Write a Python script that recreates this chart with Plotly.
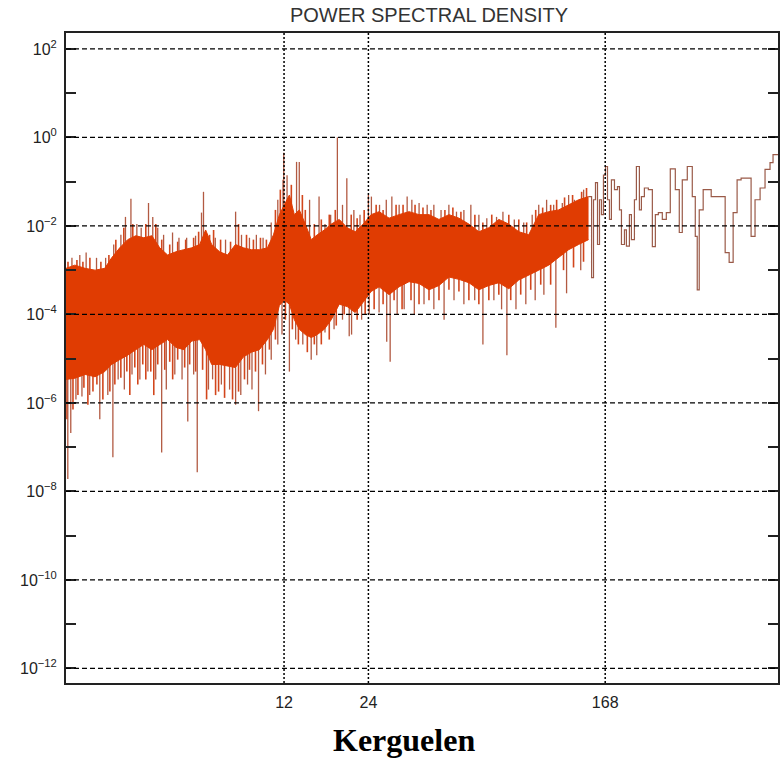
import numpy as np
import plotly.graph_objects as go

# ---- data (period in hours, PSD values) ----
ENV_PERIOD = [2.0, 2.15, 2.34, 2.54, 2.75, 2.91, 3.11, 3.32, 3.55, 3.79,
              4.05, 4.32, 4.61, 4.93, 5.26, 5.62, 6.00, 6.30, 6.62, 7.07,
              7.54, 8.05, 8.60, 9.18, 9.80, 10.47, 11.0, 11.55, 12.03, 12.54,
              13.06, 13.61, 14.29, 15.01, 15.77, 16.7, 17.69, 18.89, 20.17, 21.53,
              23.0, 24.54, 26.21, 28.45, 30.88, 33.52, 36.38, 39.49, 42.86, 46.52,
              50.5, 54.81, 59.49, 64.57, 70.09, 76.08, 82.58, 89.6, 97.3, 105.6,
              114.6, 124.4, 135.0, 146.5]
UPPER_ENV = [1.1e-3, 1.3e-3, 1.1e-3, 1.0e-3, 1.1e-3, 1.9e-3, 3.2e-3, 4.9e-3, 6.0e-3, 5.4e-3,
             6.0e-3, 3.2e-3, 2.2e-3, 2.6e-3, 2.9e-3, 3.2e-3, 3.8e-3, 8.1e-3, 3.8e-3, 2.6e-3,
             2.2e-3, 3.8e-3, 3.2e-3, 2.9e-3, 2.9e-3, 3.2e-3, 6.3e-3, 1.8e-2, 3.0e-2, 5.0e-2,
             1.8e-2, 2.3e-2, 1.1e-2, 4.9e-3, 6.3e-3, 8.1e-3, 1.1e-2, 1.4e-2, 9.1e-3, 7.4e-3,
             1.1e-2, 1.8e-2, 2.1e-2, 1.5e-2, 1.8e-2, 2.1e-2, 1.8e-2, 1.8e-2, 1.4e-2, 1.8e-2,
             1.5e-2, 1.1e-2, 7.4e-3, 9.1e-3, 1.4e-2, 1.1e-2, 7.4e-3, 6.3e-3, 1.8e-2, 2.1e-2,
             2.3e-2, 3.0e-2, 3.9e-2, 4.6e-2]
LOWER_ENV = [3.4e-6, 3.6e-6, 4.4e-6, 3.9e-6, 5.1e-6, 7.4e-6, 9.5e-6, 1.2e-5, 1.6e-5, 2.1e-5,
             1.6e-5, 2.1e-5, 2.7e-5, 1.8e-5, 1.6e-5, 2.5e-5, 2.7e-5, 1.6e-5, 7.4e-6, 7.4e-6,
             6.8e-6, 6.3e-6, 1.1e-5, 1.4e-5, 1.6e-5, 2.7e-5, 4.6e-5, 1.6e-4, 2.1e-4, 1.7e-4,
             7.6e-5, 4.6e-5, 3.5e-5, 3.0e-5, 3.5e-5, 4.6e-5, 7.6e-5, 1.7e-4, 1.5e-4, 1.1e-4,
             1.9e-4, 3.3e-4, 4.2e-4, 2.8e-4, 4.2e-4, 5.5e-4, 5.0e-4, 3.6e-4, 4.5e-4, 7.0e-4,
             6.2e-4, 5.2e-4, 3.6e-4, 4.5e-4, 5.2e-4, 3.8e-4, 6.0e-4, 7.6e-4, 1.0e-3, 1.3e-3,
             1.9e-3, 2.9e-3, 3.8e-3, 4.9e-3]

UP_SPIKE_PERIOD = [2.10, 2.24, 2.36, 2.57, 2.77, 2.96, 3.14, 3.26, 3.41, 3.58,
                   3.71, 3.94, 4.08, 4.25, 4.46, 4.80, 5.06, 5.39, 5.80, 6.09,
                   6.19, 6.82, 7.42, 8.06, 8.46, 9.03, 9.56, 10.1, 10.8, 11.4,
                   11.9, 11.97, 12.3, 13.3, 13.6, 14.8, 16.0, 16.8, 17.6, 18.6,
                   19.4, 20.1, 21.3, 22.4, 24.0, 24.6, 26.3, 27.8, 29.1, 30.9,
                   33.0, 34.3, 36.4, 38.9, 41.1, 43.6, 46.5, 49.5, 52.6, 55.7,
                   59.5, 63.5, 68.8, 72.5, 79.6, 86.0, 92.2, 97.3, 103.8, 110.0,
                   118.1, 124.4, 130.5, 140.7]
UP_SPIKE_VALUE = [1.9e-3, 2.2e-3, 2.5e-3, 1.9e-3, 1.9e-3, 3.8e-3, 6.3e-3, 1.6e-2, 4.1e-2, 1.1e-2,
                  9.1e-3, 3.3e-2, 1.6e-2, 9.1e-3, 6.3e-3, 7.1e-3, 5.4e-3, 5.4e-3, 6.0e-3, 2.0e-2,
                  5.9e-2, 5.4e-3, 4.9e-3, 2.1e-2, 6.3e-3, 5.4e-3, 6.3e-3, 5.4e-3, 1.2e-2, 3.9e-2,
                  1.1e-1, 4.5e-1, 1.4e-1, 2.8e-1, 2.8e-1, 3.9e-2, 4.6e-2, 1.1e-2, 1.8e-2, 1.0,
                  3.0e-2, 1.2e-1, 2.3e-2, 1.8e-2, 5.0e-2, 4.6e-2, 3.0e-2, 3.9e-2, 4.6e-2, 3.0e-2,
                  4.6e-2, 3.9e-2, 3.3e-2, 3.0e-2, 3.0e-2, 2.3e-2, 3.0e-2, 2.1e-2, 2.3e-2, 3.0e-2,
                  1.8e-2, 1.5e-2, 1.6e-2, 2.1e-2, 1.4e-2, 1.2e-2, 1.8e-2, 3.0e-2, 3.9e-2, 3.0e-2,
                  3.3e-2, 5.0e-2, 3.9e-2, 6.6e-2]
# smaller ragged peaks along the top of the dense band
UP_SMALL_PERIOD = [2.033, 2.188, 2.298, 2.434, 2.664, 2.845, 3.012, 3.216, 3.462, 3.853,
                   4.183, 4.392, 4.690, 5.007, 5.347, 5.708, 5.948, 6.509, 6.726, 7.124,
                   7.731, 8.256, 8.815, 9.33, 9.886, 10.38, 11.18, 11.64, 12.74, 13.95,
                   14.29, 15.39, 16.30, 17.40, 18.28, 20.84, 21.88, 23.18, 25.58, 27.08,
                   30.13, 31.91, 35.21, 37.58, 40.13, 45.01, 48.05, 51.33, 57.57, 61.46,
                   66.14, 76.08, 82.58, 88.1, 94.9, 100.5, 107.3, 112.7, 120.3, 128.5,
                   138.4, 144.1]
UP_SMALL_VALUE = [1.55e-3, 1.7e-3, 1.55e-3, 1.9e-3, 1.55e-3, 2.2e-3, 4.9e-3, 9.1e-3, 1.1e-2, 1.1e-2,
                  1.1e-2, 4.9e-3, 3.8e-3, 4.4e-3, 4.9e-3, 5.4e-3, 7.4e-3, 6.3e-3, 8.1e-3, 4.9e-3,
                  4.4e-3, 1.1e-2, 6.3e-3, 4.9e-3, 5.4e-3, 4.9e-3, 2.3e-2, 6.6e-2, 8.5e-2, 5.0e-2,
                  2.3e-2, 1.1e-2, 1.4e-2, 1.8e-2, 2.3e-2, 1.8e-2, 1.5e-2, 2.3e-2, 3.0e-2, 2.3e-2,
                  3.0e-2, 3.0e-2, 3.0e-2, 2.6e-2, 2.3e-2, 2.3e-2, 2.6e-2, 2.1e-2, 1.8e-2, 1.2e-2,
                  1.8e-2, 1.8e-2, 1.4e-2, 1.2e-2, 2.3e-2, 2.6e-2, 3.0e-2, 3.9e-2, 4.4e-2, 5.0e-2,
                  5.9e-2, 7.2e-2]

DOWN_SPIKE_PERIOD = [2.03, 2.08, 2.17, 2.28, 2.43, 2.64, 2.82, 2.94, 3.07, 3.23,
                     3.44, 3.67, 3.92, 4.18, 4.39, 4.56, 4.89, 5.19, 5.44, 5.71,
                     5.88, 6.45, 6.67, 7.17, 7.67, 8.06, 8.41, 8.89, 9.22, 9.73,
                     10.3, 10.8, 11.4, 11.8, 12.54, 13.2, 14.0, 15.0, 15.7, 16.8,
                     18.1, 19.4, 20.5, 20.9, 22.7, 24.15, 26.2, 27.9, 28.7, 30.4,
                     32.2, 35.0, 37.9, 41.1, 44.7, 48.5, 52.6, 57.5, 61.5, 67.3,
                     71.7, 74.9, 80.7, 87.5, 94.5, 101.5, 112.0, 122.3, 137.4]
DOWN_SPIKE_VALUE = [1.9e-8, 2.1e-7, 1.2e-6, 1.4e-6, 1.5e-6, 4.3e-7, 1.5e-6, 5.9e-8, 3.4e-6, 2.0e-6,
                    4.4e-6, 3.4e-6, 5.1e-6, 3.4e-6, 7.6e-8, 2.0e-6, 4.4e-6, 3.4e-6, 3.8e-7, 4.4e-6,
                    2.7e-8, 2.0e-6, 3.4e-6, 2.6e-6, 2.0e-6, 9.1e-7, 1.5e-6, 2.6e-6, 2.0e-6, 6.5e-7,
                    4.4e-6, 9.5e-6, 2.1e-5, 3.5e-5, 5.1e-6, 2.7e-5, 2.1e-5, 9.5e-6, 1.2e-5, 3.9e-5,
                    4.6e-5, 7.6e-5, 3.2e-5, 3.5e-5, 7.6e-5, 1.0e-4, 1.1e-4, 2.4e-5, 8.5e-6, 1.0e-4,
                    1.3e-4, 1.0e-4, 1.7e-4, 1.3e-4, 7.6e-5, 2.1e-4, 1.7e-4, 2.1e-4, 2.1e-5, 2.1e-4,
                    1.3e-4, 1.2e-5, 1.3e-4, 1.7e-4, 2.1e-4, 2.8e-4, 5.0e-5, 3.0e-4, 1.0e-3]
# shorter ragged troughs along the bottom of the dense band
DOWN_SMALL_PERIOD = [2.016, 2.118, 2.206, 2.317, 2.394, 2.496, 2.578, 2.708, 2.868, 2.988,
                     3.139, 3.297, 3.379, 3.520, 3.608, 3.758, 3.853, 4.014, 4.114, 4.251,
                     4.502, 4.690, 4.805, 5.007, 5.303, 5.525, 5.803, 6.145, 6.350, 6.837,
                     7.007, 7.361, 7.859, 8.256, 8.671, 9.033, 9.489, 10.05, 10.64, 11.18,
                     12.13, 12.85, 13.50, 14.53, 15.39, 16.30, 17.40, 18.43, 19.67, 21.88,
                     23.37, 25.16, 27.08, 29.64, 31.65, 34.06, 36.38, 39.49, 42.86, 46.52,
                     50.5, 54.81, 59.49, 64.57, 70.09, 77.3, 83.9, 91.1, 98.9, 107.3,
                     119.3, 129.5, 140.6]
DOWN_SMALL_VALUE = [4.3e-7, 7.1e-7, 1.5e-6, 2.2e-6, 9.1e-7, 1.8e-6, 2.6e-6, 1.2e-6, 1.8e-6, 2.6e-6,
                    3.7e-6, 5.1e-6, 1.5e-6, 6.3e-6, 2.6e-6, 7.4e-6, 3.4e-6, 5.1e-6, 1.5e-6, 7.4e-6,
                    5.6e-6, 8.5e-6, 3.4e-6, 9.5e-6, 6.3e-6, 7.4e-6, 5.1e-6, 5.6e-6, 1.2e-6, 1.5e-6,
                    1.8e-6, 1.3e-6, 1.2e-6, 1.8e-6, 3.4e-6, 5.6e-6, 5.1e-6, 7.4e-6, 1.6e-5, 2.7e-5,
                    7.6e-5, 4.6e-5, 2.1e-5, 1.4e-5, 2.1e-5, 2.1e-5, 2.7e-5, 5.6e-5, 1.0e-4, 7.6e-5,
                    1.0e-4, 1.3e-4, 1.7e-4, 2.1e-4, 1.3e-4, 2.1e-4, 1.7e-4, 2.1e-4, 2.1e-4, 3.6e-4,
                    3.3e-4, 2.1e-4, 1.7e-4, 2.1e-4, 2.8e-4, 2.1e-4, 2.8e-4, 3.6e-4, 4.7e-4, 4.7e-4,
                    1.0e-3, 1.15e-3, 1.55e-3]

STEP_PERIOD = [146.5, 150.2, 152.6, 155.1, 157.7, 160.3, 162.9, 165.6, 168.4, 171.2,
               174.0, 176.8, 181.3, 185.8, 188.9, 192.0, 196.8, 200.0, 205.0, 208.4,
               213.6, 217.1, 222.5, 226.2, 231.8, 239.5, 247.5, 253.7, 260.0, 268.6,
               277.6, 286.8, 298.9, 308.8, 316.5, 329.8, 343.6, 352.2, 357.9, 363.8,
               375.8, 401.4, 450.2, 465.2, 480.7, 496.6, 513.2, 557.1, 575.5, 599.9,
               624.8, 651.0, 667.2, 700.0]
STEP_VALUE = [4.6e-2, 6.8e-4, 3.9e-2, 9.5e-2, 3.8e-3, 3.9e-2, 1.8e-2, 1.4e-1, 2.2e-1, 3.9e-2,
              1.4e-2, 1.1e-1, 6.6e-2, 7.7e-2, 2.3e-2, 3.8e-3, 8.1e-3, 3.5e-3, 1.8e-2, 4.9e-3,
              3.9e-2, 2.2e-1, 2.3e-2, 4.6e-2, 7.2e-2, 6.6e-2, 3.4e-3, 1.8e-2, 2.0e-2, 1.4e-2,
              2.0e-2, 1.95e-1, 6.6e-2, 7.1e-3, 1.1e-1, 2.2e-1, 4.6e-2, 5.8e-3, 3.6e-4, 2.3e-2,
              6.6e-2, 4.6e-2, 2.5e-3, 1.5e-3, 2.0e-2, 1.1e-1, 1.2e-1, 5.8e-3, 3.9e-2, 7.2e-2,
              1.9e-1, 2.7e-1, 4.1e-1, 4.1e-1]

X_TICKS = [12, 24, 168]
X_TICK_TEXT = ["12", "24", "168"]
Y_MAJOR = [1e2, 1e0, 1e-2, 1e-4, 1e-6, 1e-8, 1e-10, 1e-12]
Y_MAJOR_TEXT = ["10<sup>2</sup>", "10<sup>0</sup>", "10<sup>\u22122</sup>", "10<sup>\u22124</sup>",
                "10<sup>\u22126</sup>", "10<sup>\u22128</sup>", "10<sup>\u221210</sup>", "10<sup>\u221212</sup>"]
Y_MINOR = [1e1, 1e-1, 1e-3, 1e-5, 1e-7, 1e-9, 1e-11]

# ---- helpers for spike bases (inside the dense band) ----
lp = np.log10(ENV_PERIOD)
lu = np.log10(UPPER_ENV)
ll = np.log10(LOWER_ENV)


def band_mid(p):
    q = np.log10(p)
    return 10 ** (0.5 * (np.interp(q, lp, lu) + np.interp(q, lp, ll)))


def segs(periods, values):
    xs, ys = [], []
    for p, v in zip(periods, values):
        xs += [p, p, None]
        ys += [band_mid(p), v, None]
    return xs, ys


FILL = "#E03C02"
SPIKE = "#B25A42"
SPIKE_SMALL = "#D2461C"
STEP = "#9A5A48"

fig = go.Figure()
for per, val, col, w in [(UP_SMALL_PERIOD, UP_SMALL_VALUE, SPIKE_SMALL, 1.6),
                         (DOWN_SMALL_PERIOD, DOWN_SMALL_VALUE, SPIKE_SMALL, 1.6),
                         (UP_SPIKE_PERIOD, UP_SPIKE_VALUE, SPIKE, 1.3),
                         (DOWN_SPIKE_PERIOD, DOWN_SPIKE_VALUE, SPIKE, 1.3)]:
    sx, sy = segs(per, val)
    fig.add_trace(go.Scatter(x=sx, y=sy, mode="lines", line=dict(color=col, width=w), hoverinfo="skip"))
fig.add_trace(go.Scatter(x=ENV_PERIOD, y=LOWER_ENV, mode="lines", line=dict(color=FILL, width=1)))
fig.add_trace(go.Scatter(x=ENV_PERIOD, y=UPPER_ENV, mode="lines", line=dict(color=FILL, width=1),
                         fill="tonexty", fillcolor=FILL))
fig.add_trace(go.Scatter(x=STEP_PERIOD, y=STEP_VALUE, mode="lines", line=dict(color=STEP, width=1.2, shape="hv")))

shapes = []
for v in Y_MAJOR:
    shapes.append(dict(type="line", xref="paper", x0=0, x1=1, yref="y", y0=v, y1=v,
                       line=dict(color="black", width=1.3, dash="5px,3px"), layer="above"))
for p in X_TICKS:
    shapes.append(dict(type="line", xref="x", x0=p, x1=p, yref="paper", y0=0, y1=1,
                       line=dict(color="black", width=1.5, dash="2px,2px"), layer="above"))

W, H = 780, 762
fig.update_layout(
    width=W, height=H,
    margin=dict(l=66, r=0, t=33, b=79),
    plot_bgcolor="white", paper_bgcolor="white",
    showlegend=False,
    shapes=shapes,
    title=dict(text="POWER SPECTRAL DENSITY", x=429 / W, xref="container", xanchor="center",
               y=1 - 15 / H, yref="container", yanchor="middle",
               font=dict(family="Liberation Sans", size=20, color="#333")),
    annotations=[dict(text="<b>Kerguelen</b>", xref="paper", yref="paper",
                      x=(405 - 66) / 714, y=-57 / 650, xanchor="center", yanchor="middle",
                      showarrow=False, font=dict(family="Liberation Serif", size=32, color="black"))],
)
fig.update_xaxes(type="log", range=[np.log10(2.0), np.log10(695)], tickvals=X_TICKS, ticktext=X_TICK_TEXT,
                 showgrid=False, zeroline=False, ticks="", showline=True, linewidth=2, linecolor="#222",
                 mirror=True, tickfont=dict(family="Liberation Sans", size=16, color="#222"),
                 ticklabelstandoff=4)
fig.update_yaxes(type="log", range=[-12.33, 2.36], tickvals=Y_MAJOR, ticktext=Y_MAJOR_TEXT,
                 showgrid=False, zeroline=False, ticks="inside", ticklen=10, tickwidth=1.5, tickcolor="#222",
                 minor=dict(tickvals=Y_MINOR, ticks="inside", ticklen=10, tickwidth=1.5, tickcolor="#222",
                            showgrid=False),
                 showline=True, linewidth=2, linecolor="#222", mirror="ticks",
                 tickfont=dict(family="Liberation Sans", size=16, color="#222"), ticklabelstandoff=4)

# remove the page's default body margin so the 780x762 figure fills the window exactly
fig.write_html("out.html", config={"displayModeBar": False},
               post_script="document.body.style.margin='0';document.documentElement.style.overflow='hidden';")
